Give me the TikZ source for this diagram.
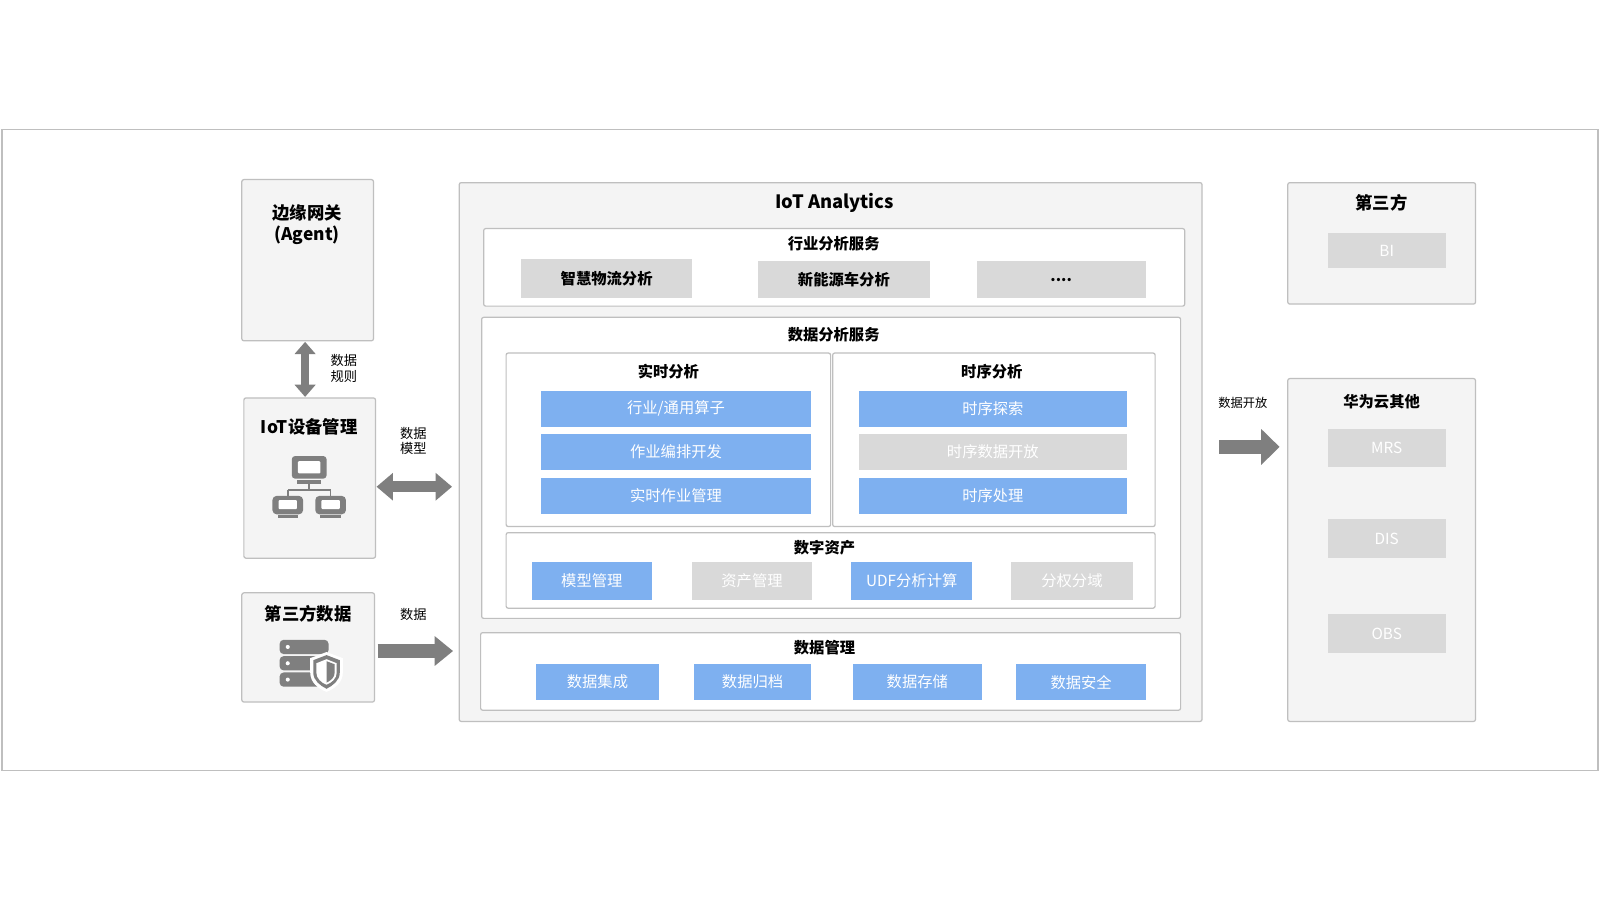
\documentclass[tikz,border=0pt]{standalone}
\usepackage{fontspec}
\setmainfont{Noto Sans CJK SC}
\usetikzlibrary{arrows.meta}
\definecolor{bd}{HTML}{BFBFBF}
\definecolor{pf}{HTML}{F4F4F4}
\definecolor{gb}{HTML}{D9D9D9}
\definecolor{bl}{HTML}{7EB0F0}
\definecolor{ag}{HTML}{7F7F7F}
\begin{document}
\begin{tikzpicture}[x=1pt,y=-1pt,
 panel/.style={draw=bd,line width=1.2pt,fill=pf,rounded corners=2pt},
 wpanel/.style={draw=bd,line width=1.2pt,fill=white,rounded corners=2pt},
 gbtn/.style={fill=gb,font=\fontsize{15}{17}\selectfont\bfseries,text=black},
 gwbtn/.style={fill=gb,font=\fontsize{15}{17}\selectfont,text=white},
 bbtn/.style={fill=bl,font=\fontsize{15}{17}\selectfont,text=white},
 ttl/.style={font=\fontsize{17}{21}\selectfont\bfseries},
 lbl/.style={font=\fontsize{13}{15}\selectfont,align=left},
 fat/.style={draw=ag,line width=13pt,-{Triangle[width=28pt,length=18pt]}},
 fatd/.style={draw=ag,line width=11pt,{Triangle[width=26pt,length=16pt]}-{Triangle[width=26pt,length=16pt]}},
 ic/.style={fill=ag}]
\useasboundingbox (0,0) rectangle (1568,882);
\draw[draw=bd,line width=1.2pt,fill=white] (2,127) rectangle (1566,755);
% left
\draw[panel] (237,176) rectangle (366,334);
\node[ttl,align=center] (edge) at (301,220) {边缘网关\\(Agent)};
\draw[panel] (239,390) rectangle (368,547);
\node[ttl] (iot) at (303,418) {IoT设备管理};
\draw[panel] (237,581) rectangle (367,688);
\node[ttl] (tpd) at (302,602) {第三方数据};
% network icon
\begin{scope}[shift={(303,477)}]
 \fill[ag,rounded corners=3pt] (-17,-30) rectangle (17,-8);
 \fill[white,rounded corners=1pt] (-11,-25) rectangle (11,-13);
 \fill[ag] (-12,-7) rectangle (12,-3);
 \draw[ag,line width=1.5pt] (0,-3) -- (0,3) (-21,3) -- (21,3) (-21,3) -- (-21,9) (21,3) -- (21,9);
 \foreach \x in {-21,21}{
 \fill[ag,rounded corners=4pt] (\x-15,9) rectangle (\x+15,27);
 \fill[white,rounded corners=1pt] (\x-9,13) rectangle (\x+9,22);
 \fill[ag] (\x-10,28) rectangle (\x+10,31);}
\end{scope}
% db icon
\begin{scope}[shift={(300,651)}]
 \foreach \y in {-24,-8,8}{
 \fill[ag,rounded corners=4pt] (-26,\y) rectangle (22,\y+14);
 \fill[white] (-18,\y+7) circle (2);}
 \fill[white] (20,-12) -- (36,-6) -- (36,8) .. controls (36,18) and (28,24) .. (20,27) .. controls (12,24) and (4,18) .. (4,8) -- (4,-6) -- cycle;
 \fill[ag] (20,-9) -- (33,-4) -- (33,8) .. controls (33,16) and (26,21) .. (20,24) .. controls (14,21) and (7,16) .. (7,8) -- (7,-4) -- cycle;
 \fill[white] (20,-5) -- (30,-1) -- (30,8) .. controls (30,14) and (25,18) .. (20,20) .. controls (15,18) and (10,14) .. (10,8) -- (10,-1) -- cycle;
 \fill[ag] (20,-3) -- (28,0) -- (28,8) .. controls (28,13) and (24,16) .. (20,18) -- cycle;
\end{scope}
% analytics
\draw[panel] (450,179) rectangle (1178,707);
\node[ttl,font=\fontsize{18}{22}\selectfont\bfseries] (ia) at (818,199) {IoT Analytics};
\draw[wpanel] (474,224) rectangle (1161,300);
\node[font=\fontsize{15}{17}\selectfont\bfseries] at (817,239) {行业分析服务};
\node[gbtn,minimum width=167pt,minimum height=38pt] at (594.5,273) {智慧物流分析};
\node[gbtn,minimum width=168pt,minimum height=36pt] at (827,274) {新能源车分析};
\node[gbtn,minimum width=166pt,minimum height=36pt] at (1040,274) {....};
\draw[wpanel] (472,311) rectangle (1157,606);
\node[font=\fontsize{15}{17}\selectfont\bfseries] at (817,328) {数据分析服务};
\draw[wpanel] (496,346) rectangle (814,516);
\node[font=\fontsize{15}{17}\selectfont\bfseries] at (655,364) {实时分析};
\draw[wpanel] (816,346) rectangle (1132,516);
\node[font=\fontsize{15}{17}\selectfont\bfseries] at (972,364) {时序分析};
\node[bbtn,minimum width=265pt,minimum height=35pt] at (662.5,400.5) {行业/通用算子};
\node[bbtn,minimum width=265pt,minimum height=36pt] at (662.5,443) {作业编排开发};
\node[bbtn,minimum width=265pt,minimum height=36pt] at (662.5,486) {实时作业管理};
\node[bbtn,minimum width=262pt,minimum height=35pt] at (973,400.5) {时序探索};
\node[gwbtn,minimum width=262pt,minimum height=36pt] at (973,443) {时序数据开放};
\node[bbtn,minimum width=262pt,minimum height=36pt] at (973,486) {时序处理};
\draw[wpanel] (496,522) rectangle (1132,596);
\node[font=\fontsize{15}{17}\selectfont\bfseries] at (808,537) {数字资产};
\node[bbtn,minimum width=118pt,minimum height=37pt] at (580,569.5) {模型管理};
\node[gwbtn,minimum width=118pt,minimum height=37pt] at (737,569.5) {资产管理};
\node[bbtn,minimum width=119pt,minimum height=37pt] at (893.5,569.5) {UDF分析计算};
\node[gwbtn,minimum width=119pt,minimum height=37pt] at (1050.5,569.5) {分权分域};
\draw[wpanel] (471,620) rectangle (1157,696);
\node[font=\fontsize{15}{17}\selectfont\bfseries] at (808,635) {数据管理};
\node[bbtn,minimum width=121pt,minimum height=35pt] at (585.5,668.5) {数据集成};
\node[bbtn,minimum width=115pt,minimum height=35pt] at (737.5,668.5) {数据归档};
\node[bbtn,minimum width=126pt,minimum height=35pt] at (899,668.5) {数据存储};
\node[bbtn,minimum width=127pt,minimum height=35pt] at (1059.5,668.5) {数据安全};
% right
\draw[panel] (1262,179) rectangle (1446,298);
\node[ttl] (tp) at (1354,199) {第三方};
\node[gwbtn,minimum width=116pt,minimum height=35pt] at (1359,245.5) {BI};
\draw[panel] (1262,371) rectangle (1446,707);
\node[font=\fontsize{15}{17}\selectfont\bfseries] (hw) at (1354,394) {华为云其他};
\node[gwbtn,minimum width=116pt,minimum height=38pt] at (1359,439) {MRS};
\node[gwbtn,minimum width=116pt,minimum height=38pt] at (1359,528) {DIS};
\node[gwbtn,minimum width=116pt,minimum height=38pt] at (1359,621) {OBS};
% arrows
\coordinate (a1) at (299,335); \coordinate (a2) at (299,389);
\draw[fatd,line width=8pt,{Triangle[width=20pt,length=12pt]}-{Triangle[width=20pt,length=12pt]}] (a1) -- (a2);
\node[lbl] at (337,361) {数据\\规则};
\coordinate (b1) at (369,477); \coordinate (b2) at (443,477);
\draw[fatd] (b1) -- (b2);
\node[lbl] at (405,432) {数据\\模型};
\coordinate (c1) at (370,638); \coordinate (c2) at (444,638);
\draw[fat] (c1) -- (c2);
\node[lbl] at (405,602) {数据};
\coordinate (d1) at (1195,438); \coordinate (d2) at (1254,438);
\draw[fat,-{Triangle[width=34pt,length=18pt]}] (d1) -- (d2);
\node[lbl,font=\fontsize{12}{14}\selectfont] at (1218,395) {数据开放};
\end{tikzpicture}
\end{document}
